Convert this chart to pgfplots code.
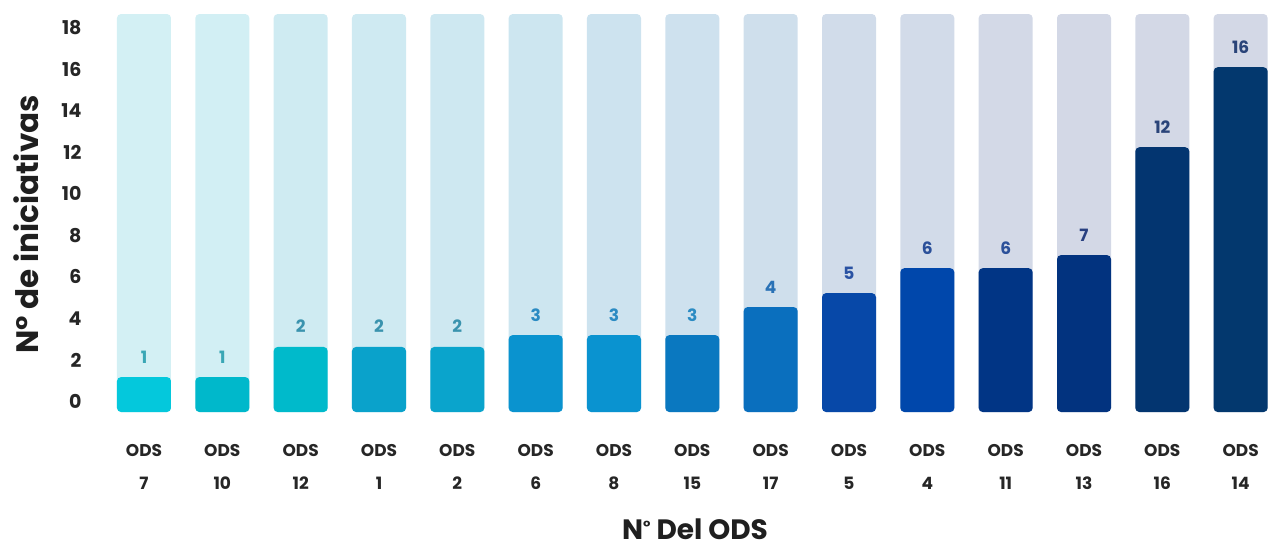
\documentclass[border=0pt]{standalone}
\usepackage{fontspec}
\setmainfont{Poppins}
\usepackage{pgfplots}
\pgfplotsset{compat=1.18}
% bar colours
\definecolor{b1}{HTML}{04C8DC}
\definecolor{b2}{HTML}{00B8CB}
\definecolor{b3}{HTML}{00BACB}
\definecolor{b4}{HTML}{0AA2CB}
\definecolor{b5}{HTML}{0AA4CC}
\definecolor{b6}{HTML}{0A93CF}
\definecolor{b7}{HTML}{0A93D0}
\definecolor{b8}{HTML}{0A78C0}
\definecolor{b9}{HTML}{0A6FBE}
\definecolor{b10}{HTML}{0748A8}
\definecolor{b11}{HTML}{0047AB}
\definecolor{b12}{HTML}{013585}
\definecolor{b13}{HTML}{02337F}
\definecolor{b14}{HTML}{033570}
\definecolor{b15}{HTML}{03386E}
% background colours
\definecolor{g1}{HTML}{D3F0F4}
\definecolor{g2}{HTML}{D2EFF4}
\definecolor{g3}{HTML}{CFEBF2}
\definecolor{g4}{HTML}{CFEAF2}
\definecolor{g5}{HTML}{CEE8F1}
\definecolor{g6}{HTML}{CDE6F0}
\definecolor{g7}{HTML}{CDE3EF}
\definecolor{g8}{HTML}{CEE1EE}
\definecolor{g9}{HTML}{CFDFEC}
\definecolor{g10}{HTML}{D1DCEA}
\definecolor{g11}{HTML}{D2DBE9}
\definecolor{g12}{HTML}{D3D9E7}
\definecolor{g13}{HTML}{D3D8E6}
\definecolor{g14}{HTML}{D3D8E6}
\definecolor{g15}{HTML}{D3D8E6}
% label colours
\definecolor{l1}{HTML}{3AA7B5}
\definecolor{l2}{HTML}{3A93AE}
\definecolor{l3}{HTML}{2B8BC3}
\definecolor{l4}{HTML}{2A72B6}
\definecolor{l5}{HTML}{2A52A3}
\definecolor{l6}{HTML}{2B509A}
\definecolor{l7}{HTML}{283F80}
\definecolor{l8}{HTML}{2A4479}

\newcommand{\odsbar}[6]{%
  \addplot[ybar, bar width=54pt, bar shift=0pt, fill=#6, draw=none, rounded corners=4pt]
    coordinates {(#1,18.65)};
  \addplot[ybar, bar width=54pt, bar shift=0pt, fill=#4, draw=none, rounded corners=4pt,
    nodes near coords, point meta=explicit symbolic,
    every node near coord/.style={font=\fontsize{17}{20}\selectfont\bfseries, text=#5, anchor=base, yshift=14pt}]
    coordinates {(#1,#2) [#3]};
}

\begin{document}
\begin{tikzpicture}
\begin{axis}[
  name=ax,
  scale only axis,
  width=1175pt, height=399pt,
  xmin=-0.6, xmax=14.4,
  ymin=0, ymax=19.2,
  y filter/.expression={y+0.5},
  axis line style={draw=none},
  major tick length=0pt,
  tick style={draw=none},
  ytick={0.5,2.5,4.5,6.5,8.5,10.5,12.5,14.5,16.5,18.5},
  yticklabels={0,2,4,6,8,10,12,14,16,18},
  yticklabel style={font=\fontsize{19}{22}\selectfont\bfseries, text=black!85, xshift=-12pt},
  xtick={0,...,14},
  xticklabels={{ODS\\7},{ODS\\10},{ODS\\12},{ODS\\1},{ODS\\2},{ODS\\6},{ODS\\8},{ODS\\15},{ODS\\17},{ODS\\5},{ODS\\4},{ODS\\11},{ODS\\13},{ODS\\16},{ODS\\14}},
  xticklabel style={align=center, font=\fontsize{17}{33}\selectfont\bfseries, text=black!85, yshift=-29pt},
  xlabel={N\raisebox{7pt}{\fontsize{16}{16}\selectfont°} Del ODS},
  xlabel style={at={(axis description cs:0.509,0)}, anchor=center, yshift=-117pt, font=\fontsize{28}{32}\selectfont\bfseries, text=black!88, inner sep=0pt},
  ylabel={N° de iniciativas},
  ylabel style={at={(axis description cs:-0.06,0.47)}, anchor=center, rotate=0, font=\fontsize{31}{36}\selectfont\bfseries, text=black!88},
  clip=false,
]
\odsbar{0}{1.18}{1}{b1}{l1}{g1}
\odsbar{1}{1.18}{1}{b2}{l1}{g2}
\odsbar{2}{2.63}{2}{b3}{l2}{g3}
\odsbar{3}{2.63}{2}{b4}{l2}{g4}
\odsbar{4}{2.63}{2}{b5}{l2}{g5}
\odsbar{5}{3.20}{3}{b6}{l3}{g6}
\odsbar{6}{3.20}{3}{b7}{l3}{g7}
\odsbar{7}{3.20}{3}{b8}{l3}{g8}
\odsbar{8}{4.55}{4}{b9}{l4}{g9}
\odsbar{9}{5.22}{5}{b10}{l5}{g10}
\odsbar{10}{6.42}{6}{b11}{l6}{g11}
\odsbar{11}{6.42}{6}{b12}{l6}{g12}
\odsbar{12}{7.05}{7}{b13}{l7}{g13}
\odsbar{13}{12.24}{12}{b14}{l8}{g14}
\odsbar{14}{16.09}{16}{b15}{l8}{g15}
\end{axis}
\pgfresetboundingbox
\path ([shift={(-97pt,-135pt)}]ax.south west) rectangle ([shift={(1172pt,412pt)}]ax.south west);
\end{tikzpicture}
\end{document}
